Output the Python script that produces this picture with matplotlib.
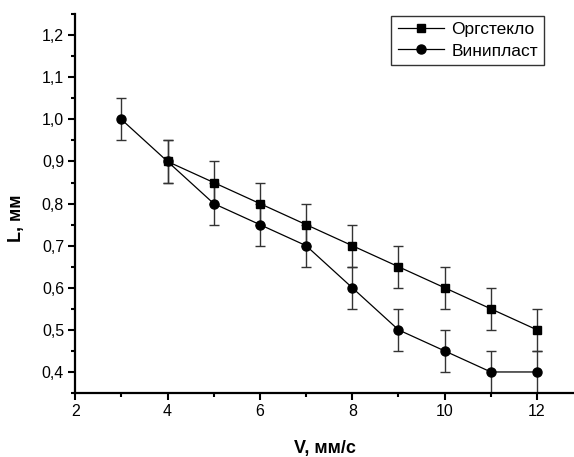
import matplotlib
matplotlib.use("Agg")
from matplotlib import pyplot as plt
from matplotlib.ticker import MultipleLocator, FuncFormatter

plt.rcParams['font.family'] = ['Liberation Sans', 'DejaVu Sans']

v_org = [4, 5, 6, 7, 8, 9, 10, 11, 12]
l_org = [0.9, 0.85, 0.8, 0.75, 0.7, 0.65, 0.6, 0.55, 0.5]
v_vin = [3, 4, 5, 6, 7, 8, 9, 10, 11, 12]
l_vin = [1.0, 0.9, 0.8, 0.75, 0.7, 0.6, 0.5, 0.45, 0.4, 0.4]
err = 0.05

fig = plt.figure(figsize=(5.74, 4.57), dpi=100)
ax = fig.add_axes([0.131, 0.14, 0.869, 0.829])

# error bars first, lines with markers on top
ax.errorbar(v_org, l_org, yerr=err, fmt='none', ecolor='#333333',
            elinewidth=1.0, capsize=3.5, capthick=1.0)
ax.errorbar(v_vin, l_vin, yerr=err, fmt='none', ecolor='#333333',
            elinewidth=1.0, capsize=3.5, capthick=1.0)
ax.plot(v_org, l_org, color='black', marker='s', ms=5.5, lw=0.9, label='Оргстекло')
ax.plot(v_vin, l_vin, color='black', marker='o', ms=6.5, lw=0.9, label='Винипласт')

ax.set_xlim(2, 12.8)
ax.set_ylim(0.35, 1.25)
ax.xaxis.set_major_locator(MultipleLocator(2))
ax.xaxis.set_minor_locator(MultipleLocator(1))
ax.yaxis.set_major_locator(MultipleLocator(0.1))
ax.yaxis.set_minor_locator(MultipleLocator(0.05))
ax.yaxis.set_major_formatter(FuncFormatter(lambda v, p: f"{v:.1f}".replace('.', ',')))

for s in ['top', 'right']:
    ax.spines[s].set_visible(False)
for s in ['left', 'bottom']:
    ax.spines[s].set_linewidth(1.6)
ax.tick_params(which='major', direction='out', length=5, width=1.5, labelsize=11.5, pad=3)
ax.tick_params(which='minor', direction='out', length=3, width=1.5)

ax.set_xlabel('V, мм/с', fontsize=13, fontweight='bold')
ax.set_ylabel('L, мм', fontsize=13, fontweight='bold')
ax.xaxis.set_label_coords(0.5, -0.125)
ax.yaxis.set_label_coords(-0.1, 0.46)

leg = ax.legend(loc='upper right', bbox_to_anchor=(0.94, 0.995), fontsize=12.5,
                frameon=True, fancybox=False, edgecolor='black', handlelength=2.7,
                borderpad=0.35, labelspacing=0.35, handletextpad=0.4,
                borderaxespad=0)
leg.get_frame().set_linewidth(1.0)

fig.savefig('out.png', dpi=100)
